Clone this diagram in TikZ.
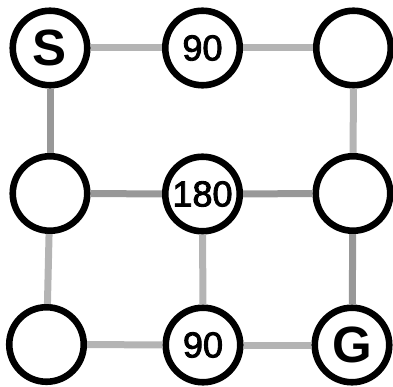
\documentclass[tikz,border=0pt]{standalone}
\usepackage{fontspec}
\setmainfont{Liberation Sans}
\newfontface\numfont[FakeBold=2.5]{Liberation Sans}
\definecolor{edgelight}{RGB}{180,180,180}
\definecolor{edgedark}{RGB}{152,152,152}
\begin{document}
\begin{tikzpicture}[x=1pt,y=-1pt,
  cell/.style={circle,draw=black,line width=6.6pt,fill=white,minimum size=74.5pt,inner sep=0pt},
  numtext/.style={font=\numfont\fontsize{36}{36}\selectfont},
  lettertext/.style={font=\fontsize{51}{51}\selectfont\bfseries},
  lightedge/.style={draw=edgelight,line width=7pt},
  darkedge/.style={draw=edgedark,line width=7pt}]
\useasboundingbox (0,0) rectangle (393,387);
\node[cell,lettertext] (s) at (50,48) {S};
\node[cell,numtext] (t90) at (202.5,48) {90};
\node[cell] (tr) at (353.5,48) {};
\node[cell] (ml) at (50,193.5) {};
\node[cell,numtext] (m180) at (202.5,194) {180};
\node[cell] (mr) at (353,193.5) {};
\node[cell] (bl) at (46.5,344.5) {};
\node[cell,numtext] (b90) at (203,345) {90};
\node[cell,lettertext] (g) at (352,345) {G};
\path[lightedge] (s) -- (t90);
\path[lightedge] (t90) -- (tr);
\path[lightedge] (tr) -- (mr);
\path[darkedge] (s) -- (ml);
\path[darkedge] (ml) -- (m180);
\path[darkedge] (m180) -- (mr);
\path[darkedge] (mr) -- (g);
\path[lightedge] (ml) -- (bl);
\path[lightedge] (m180) -- (b90);
\path[lightedge] (bl) -- (b90);
\path[lightedge] (b90) -- (g);
\end{tikzpicture}
\end{document}
